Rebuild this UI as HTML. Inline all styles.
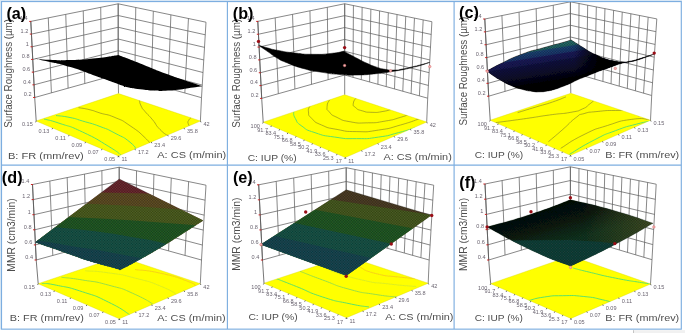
<!DOCTYPE html>
<html><head><meta charset="utf-8"><title>figure</title>
<style>
html,body{margin:0;padding:0;background:#fff;}
body{width:685px;height:333px;overflow:hidden;position:relative;}
svg{position:absolute;left:0;top:0;display:block;font-family:"Liberation Sans",sans-serif;}
</style></head><body>
<svg width="685" height="333" viewBox="0 0 685 333">
<defs><filter id="soft" x="0" y="0" width="100%" height="100%" filterUnits="userSpaceOnUse"><feGaussianBlur stdDeviation="0.35"/></filter></defs>
<g filter="url(#soft)">
<rect x="0" y="0" width="685" height="333" fill="#ffffff"/>
<defs><pattern id="mesh" width="1.6" height="1.6" patternUnits="userSpaceOnUse"><rect x="0" y="0" width="0.8" height="0.8" fill="#000" opacity="0.45"/><rect x="0.8" y="0.8" width="0.8" height="0.8" fill="#000" opacity="0.45"/></pattern></defs>
<line x1="34.7" y1="97.5" x2="30.8" y2="21.4" stroke="#606060" stroke-width="0.75" />
<line x1="51.4" y1="92.84" x2="48.28" y2="17.88" stroke="#606060" stroke-width="0.75" />
<line x1="68.1" y1="88.18" x2="65.76" y2="14.36" stroke="#606060" stroke-width="0.75" />
<line x1="84.8" y1="83.52" x2="83.24" y2="10.84" stroke="#606060" stroke-width="0.75" />
<line x1="101.5" y1="78.86" x2="100.72" y2="7.32" stroke="#606060" stroke-width="0.75" />
<line x1="118.2" y1="74.2" x2="118.2" y2="3.8" stroke="#606060" stroke-width="0.75" />
<line x1="34.7" y1="97.5" x2="118.2" y2="74.2" stroke="#606060" stroke-width="0.75" />
<line x1="34.05" y1="84.82" x2="118.2" y2="62.47" stroke="#606060" stroke-width="0.75" />
<line x1="33.4" y1="72.13" x2="118.2" y2="50.73" stroke="#606060" stroke-width="0.75" />
<line x1="32.75" y1="59.45" x2="118.2" y2="39" stroke="#606060" stroke-width="0.75" />
<line x1="32.1" y1="46.77" x2="118.2" y2="27.27" stroke="#606060" stroke-width="0.75" />
<line x1="31.45" y1="34.08" x2="118.2" y2="15.53" stroke="#606060" stroke-width="0.75" />
<line x1="30.8" y1="21.4" x2="118.2" y2="3.8" stroke="#606060" stroke-width="0.75" />
<line x1="118.2" y1="74.2" x2="118.2" y2="3.8" stroke="#606060" stroke-width="0.75" />
<line x1="134.86" y1="78.9" x2="135.76" y2="7.48" stroke="#606060" stroke-width="0.75" />
<line x1="151.52" y1="83.6" x2="153.32" y2="11.16" stroke="#606060" stroke-width="0.75" />
<line x1="168.18" y1="88.3" x2="170.88" y2="14.84" stroke="#606060" stroke-width="0.75" />
<line x1="184.84" y1="93" x2="188.44" y2="18.52" stroke="#606060" stroke-width="0.75" />
<line x1="201.5" y1="97.7" x2="206" y2="22.2" stroke="#606060" stroke-width="0.75" />
<line x1="118.2" y1="74.2" x2="201.5" y2="97.7" stroke="#606060" stroke-width="0.75" />
<line x1="118.2" y1="62.47" x2="202.25" y2="85.12" stroke="#606060" stroke-width="0.75" />
<line x1="118.2" y1="50.73" x2="203" y2="72.53" stroke="#606060" stroke-width="0.75" />
<line x1="118.2" y1="39" x2="203.75" y2="59.95" stroke="#606060" stroke-width="0.75" />
<line x1="118.2" y1="27.27" x2="204.5" y2="47.37" stroke="#606060" stroke-width="0.75" />
<line x1="118.2" y1="15.53" x2="205.25" y2="34.78" stroke="#606060" stroke-width="0.75" />
<line x1="118.2" y1="3.8" x2="206" y2="22.2" stroke="#606060" stroke-width="0.75" />
<line x1="118.2" y1="74.2" x2="118.5" y2="93.6" stroke="#606060" stroke-width="0.75" />
<line x1="201.5" y1="97.7" x2="200.4" y2="121" stroke="#606060" stroke-width="0.75" />
<clipPath id="fca"><polygon points="118.5,155.9 200.4,121 118.5,93.6 36.2,121"/></clipPath>
<polygon points="118.5,155.9 200.4,121 118.5,93.6 36.2,121" fill="#ffff00" stroke="#d8d800" stroke-width="0.4"/>
<g clip-path="url(#fca)" fill="none" stroke-width="0.55">
<path d="M44,119 C49.33,120.5 47.17,119.17 60,123.5 C72.83,127.83 66.23,124.33 82.5,132 C98.77,139.67 95.63,138.5 108.8,146.5 C121.97,154.5 117.6,152.83 122,156" stroke="#5fe266" stroke-width="1.0"/>
<path d="M56,115.5 C60.67,116.17 61.17,115.67 70,117.5 C78.83,119.33 72.5,118 82.5,121 C92.5,124 89.17,122.43 100,126.5 C110.83,130.57 105,127.97 115,133.2 C125,138.43 122.67,136.27 130,142.2 C137.33,148.13 134.67,148.07 137,151" stroke="#5fe266" stroke-width="1.0"/>
<path d="M78.5,107.6 C82.33,108.33 82.83,108 90,109.8 C97.17,111.6 91.67,110.43 100,113 C108.33,115.57 105,113.27 115,117.5 C125,121.73 120,118.97 130,125.7 C140,132.43 138.17,131.27 145,137.7 C151.83,144.13 148.67,142.57 150.5,145" stroke="#72722a" stroke-width="0.55"/>
<path d="M139.3,100.2 C139.93,102.2 139.3,102.43 141.2,106.2 C143.1,109.97 141.23,107 145,111.5 C148.77,116 147.5,113.7 152.5,119.7 C157.5,125.7 154.5,123.9 160,129.5 C165.5,135.1 166,134.17 169,136.5" stroke="#72722a" stroke-width="0.55"/>
<path d="M191.5,117 C190.53,118.17 189.7,118.33 188.6,120.5 C187.5,122.67 187.57,121.17 188.2,123.5 C188.83,125.83 189.73,126.17 190.5,127.5" stroke="#72722a" stroke-width="0.55"/>
</g>
<path d="M33.2,58.4 C38.8,58.87 37.6,59.23 50,59.8 C62.4,60.37 55.17,60.6 70.4,60.1 C85.63,59.6 79.7,60 95.7,58.3 C111.7,56.6 110.83,56.1 118.4,55 C125.67,57.8 124.53,57.27 140.2,63.4 C155.87,69.53 148.57,67.1 165.4,73.4 C182.23,79.7 178.4,78.03 190.7,82.3 C203,86.57 198.43,84.9 202.3,86.2 C198.43,86.73 198.8,86.6 190.7,87.8 C182.6,89 186.43,88.83 178,89.8 C169.57,90.77 173.8,90.43 165.4,90.7 C157,90.97 161.2,91.07 152.8,90.6 C144.4,90.13 148.6,90.4 140.2,89.3 C131.8,88.2 135,89.07 127.6,87.3 C120.2,85.53 128.63,87.77 118,84 C107.37,80.23 111.57,81.63 95.7,76 C79.83,70.37 85.63,71.8 70.4,67.1 C55.17,62.4 62.4,64.8 50,61.9 C37.6,59 38.8,59.57 33.2,58.4 Z" fill="#000"/>
<line x1="30.8" y1="21.4" x2="34.7" y2="97.5" stroke="#555" stroke-width="0.8" />
<line x1="34.7" y1="97.5" x2="36.2" y2="121" stroke="#555" stroke-width="0.8" />
<line x1="33.1" y1="97.5" x2="35.1" y2="97.5" stroke="#cc2020" stroke-width="1.0" />
<text transform="translate(31.5,96.3) scale(1.17,1)" font-size="4.75" fill="#6a6470" text-anchor="end">0.2</text>
<line x1="32.45" y1="84.82" x2="34.45" y2="84.82" stroke="#cc2020" stroke-width="1.0" />
<text transform="translate(30.85,83.62) scale(1.17,1)" font-size="4.75" fill="#6a6470" text-anchor="end">0.4</text>
<line x1="31.8" y1="72.13" x2="33.8" y2="72.13" stroke="#cc2020" stroke-width="1.0" />
<text transform="translate(30.2,70.93) scale(1.17,1)" font-size="4.75" fill="#6a6470" text-anchor="end">0.6</text>
<line x1="31.15" y1="59.45" x2="33.15" y2="59.45" stroke="#cc2020" stroke-width="1.0" />
<text transform="translate(29.55,58.25) scale(1.17,1)" font-size="4.75" fill="#6a6470" text-anchor="end">0.8</text>
<line x1="30.5" y1="46.77" x2="32.5" y2="46.77" stroke="#cc2020" stroke-width="1.0" />
<text transform="translate(28.9,45.57) scale(1.17,1)" font-size="4.75" fill="#6a6470" text-anchor="end">1</text>
<line x1="29.85" y1="34.08" x2="31.85" y2="34.08" stroke="#cc2020" stroke-width="1.0" />
<text transform="translate(28.25,32.88) scale(1.17,1)" font-size="4.75" fill="#6a6470" text-anchor="end">1.2</text>
<line x1="29.2" y1="21.4" x2="31.2" y2="21.4" stroke="#cc2020" stroke-width="1.0" />
<text transform="translate(27.6,20.2) scale(1.17,1)" font-size="4.75" fill="#6a6470" text-anchor="end">1.4</text>
<line x1="36.2" y1="121" x2="35.6" y2="122.3" stroke="#333" stroke-width="0.7" />
<text transform="translate(32.8,126.2) scale(1.17,1)" font-size="4.75" fill="#6a6470" text-anchor="end">0.15</text>
<line x1="52.66" y1="127.98" x2="52.06" y2="129.28" stroke="#333" stroke-width="0.7" />
<text transform="translate(49.26,133.18) scale(1.17,1)" font-size="4.75" fill="#6a6470" text-anchor="end">0.13</text>
<line x1="69.12" y1="134.96" x2="68.52" y2="136.26" stroke="#333" stroke-width="0.7" />
<text transform="translate(65.72,140.16) scale(1.17,1)" font-size="4.75" fill="#6a6470" text-anchor="end">0.11</text>
<line x1="85.58" y1="141.94" x2="84.98" y2="143.24" stroke="#333" stroke-width="0.7" />
<text transform="translate(82.18,147.14) scale(1.17,1)" font-size="4.75" fill="#6a6470" text-anchor="end">0.09</text>
<line x1="102.04" y1="148.92" x2="101.44" y2="150.22" stroke="#333" stroke-width="0.7" />
<text transform="translate(98.64,154.12) scale(1.17,1)" font-size="4.75" fill="#6a6470" text-anchor="end">0.07</text>
<line x1="118.5" y1="155.9" x2="117.9" y2="157.2" stroke="#333" stroke-width="0.7" />
<text transform="translate(115.1,161.1) scale(1.17,1)" font-size="4.75" fill="#6a6470" text-anchor="end">0.05</text>
<line x1="118.5" y1="155.9" x2="119.1" y2="157.2" stroke="#333" stroke-width="0.7" />
<text transform="translate(121.5,161.1) scale(1.17,1)" font-size="4.75" fill="#6a6470" text-anchor="start">11</text>
<line x1="134.88" y1="148.92" x2="135.48" y2="150.22" stroke="#333" stroke-width="0.7" />
<text transform="translate(137.88,154.12) scale(1.17,1)" font-size="4.75" fill="#6a6470" text-anchor="start">17.2</text>
<line x1="151.26" y1="141.94" x2="151.86" y2="143.24" stroke="#333" stroke-width="0.7" />
<text transform="translate(154.26,147.14) scale(1.17,1)" font-size="4.75" fill="#6a6470" text-anchor="start">23.4</text>
<line x1="167.64" y1="134.96" x2="168.24" y2="136.26" stroke="#333" stroke-width="0.7" />
<text transform="translate(170.64,140.16) scale(1.17,1)" font-size="4.75" fill="#6a6470" text-anchor="start">29.6</text>
<line x1="184.02" y1="127.98" x2="184.62" y2="129.28" stroke="#333" stroke-width="0.7" />
<text transform="translate(187.02,133.18) scale(1.17,1)" font-size="4.75" fill="#6a6470" text-anchor="start">35.8</text>
<line x1="200.4" y1="121" x2="201" y2="122.3" stroke="#333" stroke-width="0.7" />
<text transform="translate(203.4,126.2) scale(1.17,1)" font-size="4.75" fill="#6a6470" text-anchor="start">42</text>
<text transform="translate(12.4,73.4) rotate(-90)" font-size="11.2" fill="#4e4e4e" text-anchor="middle" textLength="108.8" lengthAdjust="spacingAndGlyphs">Surface Roughness (µm)</text>
<text x="7.9" y="158.6" font-size="9.8" fill="#4e4e4e" text-anchor="start" font-weight="normal" textLength="75.8" lengthAdjust="spacingAndGlyphs">B: FR (mm/rev)</text>
<text x="157.3" y="158.3" font-size="9.8" fill="#4e4e4e" text-anchor="start" font-weight="normal" textLength="68.9" lengthAdjust="spacingAndGlyphs">A: CS (m/min)</text>
<text x="16.3" y="18.9" font-size="16.2" fill="#000" text-anchor="middle" font-weight="bold" >(a)</text>
<line x1="261.7" y1="98.4" x2="257.8" y2="21.4" stroke="#606060" stroke-width="0.75" />
<line x1="278.3" y1="93.72" x2="275.18" y2="17.87" stroke="#606060" stroke-width="0.75" />
<line x1="294.9" y1="89.04" x2="292.56" y2="14.34" stroke="#606060" stroke-width="0.75" />
<line x1="311.5" y1="84.36" x2="309.94" y2="10.81" stroke="#606060" stroke-width="0.75" />
<line x1="328.1" y1="79.68" x2="327.32" y2="7.28" stroke="#606060" stroke-width="0.75" />
<line x1="344.7" y1="75" x2="344.7" y2="3.75" stroke="#606060" stroke-width="0.75" />
<line x1="261.7" y1="98.4" x2="344.7" y2="75" stroke="#606060" stroke-width="0.75" />
<line x1="261.05" y1="85.57" x2="344.7" y2="63.12" stroke="#606060" stroke-width="0.75" />
<line x1="260.4" y1="72.73" x2="344.7" y2="51.25" stroke="#606060" stroke-width="0.75" />
<line x1="259.75" y1="59.9" x2="344.7" y2="39.38" stroke="#606060" stroke-width="0.75" />
<line x1="259.1" y1="47.07" x2="344.7" y2="27.5" stroke="#606060" stroke-width="0.75" />
<line x1="258.45" y1="34.23" x2="344.7" y2="15.62" stroke="#606060" stroke-width="0.75" />
<line x1="257.8" y1="21.4" x2="344.7" y2="3.75" stroke="#606060" stroke-width="0.75" />
<line x1="344.7" y1="75" x2="344.7" y2="3.75" stroke="#606060" stroke-width="0.75" />
<line x1="353" y1="77.32" x2="353.42" y2="5.54" stroke="#606060" stroke-width="0.75" />
<line x1="361.3" y1="79.64" x2="362.14" y2="7.34" stroke="#606060" stroke-width="0.75" />
<line x1="369.6" y1="81.96" x2="370.86" y2="9.13" stroke="#606060" stroke-width="0.75" />
<line x1="377.9" y1="84.28" x2="379.58" y2="10.93" stroke="#606060" stroke-width="0.75" />
<line x1="386.2" y1="86.6" x2="388.3" y2="12.72" stroke="#606060" stroke-width="0.75" />
<line x1="394.5" y1="88.92" x2="397.02" y2="14.52" stroke="#606060" stroke-width="0.75" />
<line x1="402.8" y1="91.24" x2="405.74" y2="16.31" stroke="#606060" stroke-width="0.75" />
<line x1="411.1" y1="93.56" x2="414.46" y2="18.11" stroke="#606060" stroke-width="0.75" />
<line x1="419.4" y1="95.88" x2="423.18" y2="19.91" stroke="#606060" stroke-width="0.75" />
<line x1="427.7" y1="98.2" x2="431.9" y2="21.7" stroke="#606060" stroke-width="0.75" />
<line x1="344.7" y1="75" x2="427.7" y2="98.2" stroke="#606060" stroke-width="0.75" />
<line x1="344.7" y1="63.12" x2="428.4" y2="85.45" stroke="#606060" stroke-width="0.75" />
<line x1="344.7" y1="51.25" x2="429.1" y2="72.7" stroke="#606060" stroke-width="0.75" />
<line x1="344.7" y1="39.38" x2="429.8" y2="59.95" stroke="#606060" stroke-width="0.75" />
<line x1="344.7" y1="27.5" x2="430.5" y2="47.2" stroke="#606060" stroke-width="0.75" />
<line x1="344.7" y1="15.62" x2="431.2" y2="34.45" stroke="#606060" stroke-width="0.75" />
<line x1="344.7" y1="3.75" x2="431.9" y2="21.7" stroke="#606060" stroke-width="0.75" />
<line x1="344.7" y1="75" x2="344.7" y2="94.8" stroke="#606060" stroke-width="0.75" />
<line x1="427.7" y1="98.2" x2="426.7" y2="122" stroke="#606060" stroke-width="0.75" />
<clipPath id="fcb"><polygon points="345.3,157.5 426.7,122 344.7,94.8 263.2,122.2"/></clipPath>
<polygon points="345.3,157.5 426.7,122 344.7,94.8 263.2,122.2" fill="#ffff00" stroke="#d8d800" stroke-width="0.4"/>
<g clip-path="url(#fcb)" fill="none" stroke-width="0.55">
<path d="M293.58,111.46 C294.16,113.79 292.55,113.57 295.33,118.47 C298.1,123.36 295.33,121.38 301.9,126.13 C308.47,130.87 304.09,129.05 315.03,132.7 C325.98,136.35 320.87,135.11 334.74,137.08 C348.61,139.05 342.04,138.61 356.64,138.61 C371.23,138.61 364.67,139.05 378.53,137.08 C392.4,135.11 385.98,135.84 398.24,132.7 C410.5,129.56 409.63,129.34 415.32,127.66" stroke="#5fe266" stroke-width="1.0"/>
<path d="M310,105.98 C309.49,107.95 307.88,107.74 308.47,111.9 C309.05,116.06 307.37,114.09 311.75,118.47 C316.13,122.84 313.21,121.38 321.6,125.03 C330,128.68 325.25,127.22 336.93,129.41 C348.61,131.6 342.77,131.38 356.64,131.6 C370.5,131.82 363.94,132.26 378.53,130.07 C393.13,127.88 386.2,129.05 400.43,125.03 C414.66,121.02 414.3,120.36 421.23,118.03" stroke="#72722a" stroke-width="0.55"/>
<path d="M329.49,99.85 C328.68,102.04 327.15,102.41 327.08,106.42 C327,110.44 325.98,108.25 329.27,111.9 C332.55,115.55 330,114.09 336.93,117.37 C343.86,120.65 339.85,119.92 350.07,121.75 C360.29,123.57 355.91,123.06 367.58,122.84 C379.26,122.63 374.15,122.92 385.1,121.09 C396.05,119.27 391.96,119.85 400.43,117.37 C408.9,114.89 407.14,114.89 410.5,113.65" stroke="#72722a" stroke-width="0.55"/>
<path d="M356.64,97.23 C355.54,99.2 353.72,99.71 353.35,103.14 C352.99,106.57 352.62,104.96 355.54,107.52 C358.46,110.07 356.64,109.2 362.11,110.8 C367.58,112.41 365.03,112.12 371.96,112.33 C378.9,112.55 376.2,112.55 382.91,111.46 C389.63,110.36 389.04,109.85 392.11,109.05" stroke="#72722a" stroke-width="0.55"/>
</g>
<path d="M258.6,45.3 C261.73,46.2 261.87,46.37 268,48 C274.13,49.63 268,48.53 277,50.2 C286,51.87 283,51.63 295,53 C307,54.37 301,54.17 313,54.3 C325,54.43 320.7,54.43 331,53.4 C341.3,52.37 339.6,51.93 343.9,51.2 C348.6,53.73 350.3,54.77 358,58.8 C365.7,62.83 361,60.6 367,63.3 C373,66 370,64.9 376,66.9 C382,68.9 379,68.23 385,69.3 C391,70.37 388,70.23 394,70.1 C400,69.97 397,69.97 403,68.9 C409,67.83 406,68.3 412,66.9 C418,65.5 415.1,66.23 421,64.7 C426.9,63.17 426.8,63.1 429.7,62.3 C426.8,63.3 426.9,63.53 421,65.3 C415.1,67.07 418,66.13 412,67.6 C406,69.07 409,68.5 403,69.7 C397,70.9 400,70.23 394,71.2 C388,72.17 391,71.77 385,72.6 C379,73.43 385,72.9 376,73.7 C367,74.5 370,74.73 358,75 C346,75.27 352,75.4 340,74.5 C328,73.6 334,74.23 322,72.3 C310,70.37 316,72 304,68.7 C292,65.4 295,65.97 286,62.4 C277,58.83 283,61.53 277,58 C271,54.47 274.13,56.03 268,51.8 C261.87,47.57 261.73,47.47 258.6,45.3 Z" fill="#000" stroke="#000" stroke-width="0.5"/>
<line x1="257.8" y1="21.4" x2="261.7" y2="98.4" stroke="#555" stroke-width="0.8" />
<line x1="261.7" y1="98.4" x2="263.2" y2="122.2" stroke="#555" stroke-width="0.8" />
<line x1="260.1" y1="98.4" x2="262.1" y2="98.4" stroke="#cc2020" stroke-width="1.0" />
<text transform="translate(258.5,97.2) scale(1.17,1)" font-size="4.75" fill="#6a6470" text-anchor="end">0.2</text>
<line x1="259.45" y1="85.57" x2="261.45" y2="85.57" stroke="#cc2020" stroke-width="1.0" />
<text transform="translate(257.85,84.37) scale(1.17,1)" font-size="4.75" fill="#6a6470" text-anchor="end">0.4</text>
<line x1="258.8" y1="72.73" x2="260.8" y2="72.73" stroke="#cc2020" stroke-width="1.0" />
<text transform="translate(257.2,71.53) scale(1.17,1)" font-size="4.75" fill="#6a6470" text-anchor="end">0.6</text>
<line x1="258.15" y1="59.9" x2="260.15" y2="59.9" stroke="#cc2020" stroke-width="1.0" />
<text transform="translate(256.55,58.7) scale(1.17,1)" font-size="4.75" fill="#6a6470" text-anchor="end">0.8</text>
<line x1="257.5" y1="47.07" x2="259.5" y2="47.07" stroke="#cc2020" stroke-width="1.0" />
<text transform="translate(255.9,45.87) scale(1.17,1)" font-size="4.75" fill="#6a6470" text-anchor="end">1</text>
<line x1="256.85" y1="34.23" x2="258.85" y2="34.23" stroke="#cc2020" stroke-width="1.0" />
<text transform="translate(255.25,33.03) scale(1.17,1)" font-size="4.75" fill="#6a6470" text-anchor="end">1.2</text>
<line x1="256.2" y1="21.4" x2="258.2" y2="21.4" stroke="#cc2020" stroke-width="1.0" />
<text transform="translate(254.6,20.2) scale(1.17,1)" font-size="4.75" fill="#6a6470" text-anchor="end">1.4</text>
<line x1="263.2" y1="122.2" x2="262.6" y2="123.5" stroke="#333" stroke-width="0.7" />
<text transform="translate(259.8,128.1) scale(1.17,1)" font-size="4.75" fill="#6a6470" text-anchor="end">100</text>
<line x1="271.41" y1="125.73" x2="270.81" y2="127.03" stroke="#333" stroke-width="0.7" />
<text transform="translate(268.01,131.63) scale(1.17,1)" font-size="4.75" fill="#6a6470" text-anchor="end">91.7</text>
<line x1="279.62" y1="129.26" x2="279.02" y2="130.56" stroke="#333" stroke-width="0.7" />
<text transform="translate(276.22,135.16) scale(1.17,1)" font-size="4.75" fill="#6a6470" text-anchor="end">83.4</text>
<line x1="287.83" y1="132.79" x2="287.23" y2="134.09" stroke="#333" stroke-width="0.7" />
<text transform="translate(284.43,138.69) scale(1.17,1)" font-size="4.75" fill="#6a6470" text-anchor="end">75.1</text>
<line x1="296.04" y1="136.32" x2="295.44" y2="137.62" stroke="#333" stroke-width="0.7" />
<text transform="translate(292.64,142.22) scale(1.17,1)" font-size="4.75" fill="#6a6470" text-anchor="end">66.8</text>
<line x1="304.25" y1="139.85" x2="303.65" y2="141.15" stroke="#333" stroke-width="0.7" />
<text transform="translate(300.85,145.75) scale(1.17,1)" font-size="4.75" fill="#6a6470" text-anchor="end">58.5</text>
<line x1="312.46" y1="143.38" x2="311.86" y2="144.68" stroke="#333" stroke-width="0.7" />
<text transform="translate(309.06,149.28) scale(1.17,1)" font-size="4.75" fill="#6a6470" text-anchor="end">50.2</text>
<line x1="320.67" y1="146.91" x2="320.07" y2="148.21" stroke="#333" stroke-width="0.7" />
<text transform="translate(317.27,152.81) scale(1.17,1)" font-size="4.75" fill="#6a6470" text-anchor="end">41.9</text>
<line x1="328.88" y1="150.44" x2="328.28" y2="151.74" stroke="#333" stroke-width="0.7" />
<text transform="translate(325.48,156.34) scale(1.17,1)" font-size="4.75" fill="#6a6470" text-anchor="end">33.6</text>
<line x1="337.09" y1="153.97" x2="336.49" y2="155.27" stroke="#333" stroke-width="0.7" />
<text transform="translate(333.69,159.87) scale(1.17,1)" font-size="4.75" fill="#6a6470" text-anchor="end">25.3</text>
<line x1="345.3" y1="157.5" x2="344.7" y2="158.8" stroke="#333" stroke-width="0.7" />
<text transform="translate(341.9,163.4) scale(1.17,1)" font-size="4.75" fill="#6a6470" text-anchor="end">17</text>
<line x1="345.3" y1="157.5" x2="345.9" y2="158.8" stroke="#333" stroke-width="0.7" />
<text transform="translate(348.3,162.7) scale(1.17,1)" font-size="4.75" fill="#6a6470" text-anchor="start">11</text>
<line x1="361.58" y1="150.4" x2="362.18" y2="151.7" stroke="#333" stroke-width="0.7" />
<text transform="translate(364.58,155.6) scale(1.17,1)" font-size="4.75" fill="#6a6470" text-anchor="start">17.2</text>
<line x1="377.86" y1="143.3" x2="378.46" y2="144.6" stroke="#333" stroke-width="0.7" />
<text transform="translate(380.86,148.5) scale(1.17,1)" font-size="4.75" fill="#6a6470" text-anchor="start">23.4</text>
<line x1="394.14" y1="136.2" x2="394.74" y2="137.5" stroke="#333" stroke-width="0.7" />
<text transform="translate(397.14,141.4) scale(1.17,1)" font-size="4.75" fill="#6a6470" text-anchor="start">29.6</text>
<line x1="410.42" y1="129.1" x2="411.02" y2="130.4" stroke="#333" stroke-width="0.7" />
<text transform="translate(413.42,134.3) scale(1.17,1)" font-size="4.75" fill="#6a6470" text-anchor="start">35.8</text>
<line x1="426.7" y1="122" x2="427.3" y2="123.3" stroke="#333" stroke-width="0.7" />
<text transform="translate(429.7,127.2) scale(1.17,1)" font-size="4.75" fill="#6a6470" text-anchor="start">42</text>
<text transform="translate(239.6,73.3) rotate(-90)" font-size="11.2" fill="#4e4e4e" text-anchor="middle" textLength="108.8" lengthAdjust="spacingAndGlyphs">Surface Roughness (µm)</text>
<text x="247.7" y="161.2" font-size="9.8" fill="#4e4e4e" text-anchor="start" font-weight="normal" textLength="49" lengthAdjust="spacingAndGlyphs">C: IUP (%)</text>
<text x="383.4" y="160" font-size="9.8" fill="#4e4e4e" text-anchor="start" font-weight="normal" textLength="68.4" lengthAdjust="spacingAndGlyphs">A: CS (m/min)</text>
<circle cx="258.5" cy="41.4" r="1.7" fill="#9a1018"/>
<circle cx="344.6" cy="47.6" r="1.7" fill="#9a1018"/>
<circle cx="344.6" cy="65.5" r="1.25" fill="#f2b4b4" stroke="#d86a6a" stroke-width="0.5"/>
<circle cx="390.6" cy="70.8" r="1.25" fill="#f2b4b4" stroke="#d86a6a" stroke-width="0.5"/>
<circle cx="429.8" cy="66.6" r="1.25" fill="#f2b4b4" stroke="#d86a6a" stroke-width="0.5"/>
<text x="243.1" y="18.9" font-size="16.2" fill="#000" text-anchor="middle" font-weight="bold" >(b)</text>
<line x1="488.7" y1="96.2" x2="484.8" y2="19" stroke="#606060" stroke-width="0.75" />
<line x1="505.04" y1="91.38" x2="501.92" y2="15.56" stroke="#606060" stroke-width="0.75" />
<line x1="521.38" y1="86.56" x2="519.04" y2="12.12" stroke="#606060" stroke-width="0.75" />
<line x1="537.72" y1="81.74" x2="536.16" y2="8.68" stroke="#606060" stroke-width="0.75" />
<line x1="554.06" y1="76.92" x2="553.28" y2="5.24" stroke="#606060" stroke-width="0.75" />
<line x1="570.4" y1="72.1" x2="570.4" y2="1.8" stroke="#606060" stroke-width="0.75" />
<line x1="488.7" y1="96.2" x2="570.4" y2="72.1" stroke="#606060" stroke-width="0.75" />
<line x1="488.05" y1="83.33" x2="570.4" y2="60.38" stroke="#606060" stroke-width="0.75" />
<line x1="487.4" y1="70.47" x2="570.4" y2="48.67" stroke="#606060" stroke-width="0.75" />
<line x1="486.75" y1="57.6" x2="570.4" y2="36.95" stroke="#606060" stroke-width="0.75" />
<line x1="486.1" y1="44.73" x2="570.4" y2="25.23" stroke="#606060" stroke-width="0.75" />
<line x1="485.45" y1="31.87" x2="570.4" y2="13.52" stroke="#606060" stroke-width="0.75" />
<line x1="484.8" y1="19" x2="570.4" y2="1.8" stroke="#606060" stroke-width="0.75" />
<line x1="570.4" y1="72.1" x2="570.4" y2="1.8" stroke="#606060" stroke-width="0.75" />
<line x1="578.53" y1="74.44" x2="579.04" y2="3.51" stroke="#606060" stroke-width="0.75" />
<line x1="586.66" y1="76.78" x2="587.68" y2="5.22" stroke="#606060" stroke-width="0.75" />
<line x1="594.79" y1="79.12" x2="596.32" y2="6.93" stroke="#606060" stroke-width="0.75" />
<line x1="602.92" y1="81.46" x2="604.96" y2="8.64" stroke="#606060" stroke-width="0.75" />
<line x1="611.05" y1="83.8" x2="613.6" y2="10.35" stroke="#606060" stroke-width="0.75" />
<line x1="619.18" y1="86.14" x2="622.24" y2="12.06" stroke="#606060" stroke-width="0.75" />
<line x1="627.31" y1="88.48" x2="630.88" y2="13.77" stroke="#606060" stroke-width="0.75" />
<line x1="635.44" y1="90.82" x2="639.52" y2="15.48" stroke="#606060" stroke-width="0.75" />
<line x1="643.57" y1="93.16" x2="648.16" y2="17.19" stroke="#606060" stroke-width="0.75" />
<line x1="651.7" y1="95.5" x2="656.8" y2="18.9" stroke="#606060" stroke-width="0.75" />
<line x1="570.4" y1="72.1" x2="651.7" y2="95.5" stroke="#606060" stroke-width="0.75" />
<line x1="570.4" y1="60.38" x2="652.55" y2="82.73" stroke="#606060" stroke-width="0.75" />
<line x1="570.4" y1="48.67" x2="653.4" y2="69.97" stroke="#606060" stroke-width="0.75" />
<line x1="570.4" y1="36.95" x2="654.25" y2="57.2" stroke="#606060" stroke-width="0.75" />
<line x1="570.4" y1="25.23" x2="655.1" y2="44.43" stroke="#606060" stroke-width="0.75" />
<line x1="570.4" y1="13.52" x2="655.95" y2="31.67" stroke="#606060" stroke-width="0.75" />
<line x1="570.4" y1="1.8" x2="656.8" y2="18.9" stroke="#606060" stroke-width="0.75" />
<line x1="570.4" y1="72.1" x2="570.8" y2="93.3" stroke="#606060" stroke-width="0.75" />
<line x1="651.7" y1="95.5" x2="650.5" y2="120.2" stroke="#606060" stroke-width="0.75" />
<clipPath id="fcc"><polygon points="570.5,155.3 650.5,120.2 570.8,93.3 490.2,120.2"/></clipPath>
<polygon points="570.5,155.3 650.5,120.2 570.8,93.3 490.2,120.2" fill="#ffff00" stroke="#d8d800" stroke-width="0.4"/>
<g clip-path="url(#fcc)" fill="none" stroke-width="0.55">
<path d="M517.63,112.6 C523.94,110.67 524.99,110.32 536.55,106.82 C548.11,103.31 542.5,105.41 552.31,102.09 C562.12,98.76 561.42,98.58 565.98,96.83" stroke="#72722a" stroke-width="0.55"/>
<path d="M495.82,122.58 C505.02,121.35 505.46,121.44 523.41,118.9 C541.37,116.36 533.92,117.15 549.69,114.96 C565.45,112.77 559.76,114.35 570.71,112.33 C581.65,110.32 576.4,111.54 582.53,108.92 C588.66,106.29 585.33,107.25 589.1,104.45 C592.86,101.65 592.25,101.82 593.83,100.51" stroke="#72722a" stroke-width="0.55"/>
<path d="M548.37,141.76 C553.19,137.64 553.63,137.47 562.82,129.41 C572.02,121.35 568.95,122.84 575.96,117.59 C582.97,112.33 576.84,115.66 583.84,113.65 C590.85,111.63 586.47,112.6 596.98,111.54 C607.49,110.49 603.99,110.49 615.37,110.49 C626.76,110.49 623.25,109.62 631.14,111.54 C639.02,113.47 636.39,114.7 639.02,116.27" stroke="#72722a" stroke-width="0.55"/>
<path d="M560.72,148.33 C568.43,143.77 568.25,142.29 583.84,134.67 C599.43,127.05 591.72,130.55 607.49,125.47 C623.25,120.39 617.12,121.44 631.14,119.43 C645.15,117.41 643.4,119.43 649.53,119.43" stroke="#72722a" stroke-width="0.55"/>
<path d="M569.39,154.37 C577.71,149.56 579.03,147.8 594.35,139.92 C609.68,132.04 601.36,135.98 615.37,130.73 C629.38,125.47 624.13,127.4 636.39,124.16 C648.65,120.92 646.9,122.05 652.16,121" stroke="#5fe266" stroke-width="1.0"/>
</g>
<defs><linearGradient id="gc1" gradientUnits="userSpaceOnUse" x1="571.2" y1="40" x2="577.52" y2="79.48">
<stop offset="0" stop-color="#2c7c77"/>
<stop offset="0.125" stop-color="#266f6f"/>
<stop offset="0.15" stop-color="#204d82"/>
<stop offset="0.28" stop-color="#1d3c7a"/>
<stop offset="0.305" stop-color="#1d1d66"/>
<stop offset="0.43" stop-color="#1a1b5c"/>
<stop offset="0.46" stop-color="#131549"/>
<stop offset="0.7" stop-color="#0c0c32"/>
<stop offset="0.9" stop-color="#02020a"/>
<stop offset="1" stop-color="#000"/>
</linearGradient><linearGradient id="gc2" gradientUnits="userSpaceOnUse" x1="574" y1="0" x2="600" y2="0"><stop offset="0" stop-color="#000" stop-opacity="0"/><stop offset="1" stop-color="#000" stop-opacity="1"/></linearGradient></defs>
<clipPath id="scc"><path d="M487.2,71 C491.8,68.53 489.4,69.2 501,63.6 C512.6,58 508,59.43 522,54.2 C536,48.97 529,51.9 543,47.9 C557,43.9 554.6,44.83 564,42.2 C573.4,39.57 568.8,40.73 571.2,40 C573,41.17 572.4,40.83 576.6,43.5 C580.8,46.17 579,45 583.8,48 C588.6,51 586.6,50.1 591,52.5 C595.4,54.9 592.5,53.17 597,55.2 C601.5,57.23 598.5,56.57 604.5,58.6 C610.5,60.63 609,60.2 615,61.3 C621,62.4 617.5,61.93 622.5,61.9 C627.5,61.87 624,62.37 630,61.2 C636,60.03 632.43,60.8 640.5,58.4 C648.57,56 649.63,55.47 654.2,54 C649.47,55.73 648.07,56.6 640,59.2 C631.93,61.8 635.83,60.5 630,61.8 C624.17,63.1 627.5,61.87 622.5,63.1 C617.5,64.33 620,63.8 615,65.5 C610,67.2 612.5,66.43 607.5,68.2 C602.5,69.97 605,68.93 600,70.8 C595,72.67 597.5,71.8 592.5,73.8 C587.5,75.8 590,74.8 585,76.8 C580,78.8 582.5,77.57 577.5,79.8 C572.5,82.03 575,81.27 570,83.5 C565,85.73 567.5,84.6 562.5,86.5 C557.5,88.4 560,87.7 555,89.2 C550,90.7 552.5,90.13 547.5,91 C542.5,91.87 545,91.67 540,91.8 C535,91.93 538.5,92.23 532.5,91.4 C526.5,90.57 529,91.2 522,89.3 C515,87.4 518.5,88.67 511.5,85.7 C504.5,82.73 507.17,83.8 501,80.4 C494.83,77 497.6,78.63 493,75.5 C488.4,72.37 489.13,72.5 487.2,71 Z"/></clipPath>
<path d="M487.2,71 C491.8,68.53 489.4,69.2 501,63.6 C512.6,58 508,59.43 522,54.2 C536,48.97 529,51.9 543,47.9 C557,43.9 554.6,44.83 564,42.2 C573.4,39.57 568.8,40.73 571.2,40 C573,41.17 572.4,40.83 576.6,43.5 C580.8,46.17 579,45 583.8,48 C588.6,51 586.6,50.1 591,52.5 C595.4,54.9 592.5,53.17 597,55.2 C601.5,57.23 598.5,56.57 604.5,58.6 C610.5,60.63 609,60.2 615,61.3 C621,62.4 617.5,61.93 622.5,61.9 C627.5,61.87 624,62.37 630,61.2 C636,60.03 632.43,60.8 640.5,58.4 C648.57,56 649.63,55.47 654.2,54 C649.47,55.73 648.07,56.6 640,59.2 C631.93,61.8 635.83,60.5 630,61.8 C624.17,63.1 627.5,61.87 622.5,63.1 C617.5,64.33 620,63.8 615,65.5 C610,67.2 612.5,66.43 607.5,68.2 C602.5,69.97 605,68.93 600,70.8 C595,72.67 597.5,71.8 592.5,73.8 C587.5,75.8 590,74.8 585,76.8 C580,78.8 582.5,77.57 577.5,79.8 C572.5,82.03 575,81.27 570,83.5 C565,85.73 567.5,84.6 562.5,86.5 C557.5,88.4 560,87.7 555,89.2 C550,90.7 552.5,90.13 547.5,91 C542.5,91.87 545,91.67 540,91.8 C535,91.93 538.5,92.23 532.5,91.4 C526.5,90.57 529,91.2 522,89.3 C515,87.4 518.5,88.67 511.5,85.7 C504.5,82.73 507.17,83.8 501,80.4 C494.83,77 497.6,78.63 493,75.5 C488.4,72.37 489.13,72.5 487.2,71 Z" fill="#000" stroke="#000" stroke-width="0.5"/>
<g clip-path="url(#scc)"><path d="M487.2,71 C491.8,68.53 489.4,69.2 501,63.6 C512.6,58 508,59.43 522,54.2 C536,48.97 529,51.9 543,47.9 C557,43.9 554.6,44.83 564,42.2 C573.4,39.57 568.8,40.73 571.2,40 C573,41.17 572.4,40.83 576.6,43.5 C580.8,46.17 579,45 583.8,48 C588.6,51 586.6,50.1 591,52.5 C595.4,54.9 592.5,53.17 597,55.2 C601.5,57.23 598.5,56.57 604.5,58.6 C610.5,60.63 609,60.2 615,61.3 C621,62.4 617.5,61.93 622.5,61.9 C627.5,61.87 624,62.37 630,61.2 C636,60.03 632.43,60.8 640.5,58.4 C648.57,56 649.63,55.47 654.2,54 C649.47,55.73 648.07,56.6 640,59.2 C631.93,61.8 635.83,60.5 630,61.8 C624.17,63.1 627.5,61.87 622.5,63.1 C617.5,64.33 620,63.8 615,65.5 C610,67.2 612.5,66.43 607.5,68.2 C602.5,69.97 605,68.93 600,70.8 C595,72.67 597.5,71.8 592.5,73.8 C587.5,75.8 590,74.8 585,76.8 C580,78.8 582.5,77.57 577.5,79.8 C572.5,82.03 575,81.27 570,83.5 C565,85.73 567.5,84.6 562.5,86.5 C557.5,88.4 560,87.7 555,89.2 C550,90.7 552.5,90.13 547.5,91 C542.5,91.87 545,91.67 540,91.8 C535,91.93 538.5,92.23 532.5,91.4 C526.5,90.57 529,91.2 522,89.3 C515,87.4 518.5,88.67 511.5,85.7 C504.5,82.73 507.17,83.8 501,80.4 C494.83,77 497.6,78.63 493,75.5 C488.4,72.37 489.13,72.5 487.2,71 Z" fill="url(#gc1)"/>
<rect x="560" y="30" width="100" height="70" fill="url(#gc2)"/>
<path d="M487.2,71 C491.8,68.53 489.4,69.2 501,63.6 C512.6,58 508,59.43 522,54.2 C536,48.97 529,51.9 543,47.9 C557,43.9 554.6,44.83 564,42.2 C573.4,39.57 568.8,40.73 571.2,40 C573,41.17 572.4,40.83 576.6,43.5 C580.8,46.17 579,45 583.8,48 C588.6,51 586.6,50.1 591,52.5 C595.4,54.9 592.5,53.17 597,55.2 C601.5,57.23 598.5,56.57 604.5,58.6 C610.5,60.63 609,60.2 615,61.3 C621,62.4 617.5,61.93 622.5,61.9 C627.5,61.87 624,62.37 630,61.2 C636,60.03 632.43,60.8 640.5,58.4 C648.57,56 649.63,55.47 654.2,54 C649.47,55.73 648.07,56.6 640,59.2 C631.93,61.8 635.83,60.5 630,61.8 C624.17,63.1 627.5,61.87 622.5,63.1 C617.5,64.33 620,63.8 615,65.5 C610,67.2 612.5,66.43 607.5,68.2 C602.5,69.97 605,68.93 600,70.8 C595,72.67 597.5,71.8 592.5,73.8 C587.5,75.8 590,74.8 585,76.8 C580,78.8 582.5,77.57 577.5,79.8 C572.5,82.03 575,81.27 570,83.5 C565,85.73 567.5,84.6 562.5,86.5 C557.5,88.4 560,87.7 555,89.2 C550,90.7 552.5,90.13 547.5,91 C542.5,91.87 545,91.67 540,91.8 C535,91.93 538.5,92.23 532.5,91.4 C526.5,90.57 529,91.2 522,89.3 C515,87.4 518.5,88.67 511.5,85.7 C504.5,82.73 507.17,83.8 501,80.4 C494.83,77 497.6,78.63 493,75.5 C488.4,72.37 489.13,72.5 487.2,71 Z" fill="url(#mesh)"/></g>
<line x1="484.8" y1="19" x2="488.7" y2="96.2" stroke="#555" stroke-width="0.8" />
<line x1="488.7" y1="96.2" x2="490.2" y2="120.2" stroke="#555" stroke-width="0.8" />
<line x1="487.1" y1="96.2" x2="489.1" y2="96.2" stroke="#cc2020" stroke-width="1.0" />
<text transform="translate(485.5,95) scale(1.17,1)" font-size="4.75" fill="#6a6470" text-anchor="end">0.2</text>
<line x1="486.45" y1="83.33" x2="488.45" y2="83.33" stroke="#cc2020" stroke-width="1.0" />
<text transform="translate(484.85,82.13) scale(1.17,1)" font-size="4.75" fill="#6a6470" text-anchor="end">0.4</text>
<line x1="485.8" y1="70.47" x2="487.8" y2="70.47" stroke="#cc2020" stroke-width="1.0" />
<text transform="translate(484.2,69.27) scale(1.17,1)" font-size="4.75" fill="#6a6470" text-anchor="end">0.6</text>
<line x1="485.15" y1="57.6" x2="487.15" y2="57.6" stroke="#cc2020" stroke-width="1.0" />
<text transform="translate(483.55,56.4) scale(1.17,1)" font-size="4.75" fill="#6a6470" text-anchor="end">0.8</text>
<line x1="484.5" y1="44.73" x2="486.5" y2="44.73" stroke="#cc2020" stroke-width="1.0" />
<text transform="translate(482.9,43.53) scale(1.17,1)" font-size="4.75" fill="#6a6470" text-anchor="end">1</text>
<line x1="483.85" y1="31.87" x2="485.85" y2="31.87" stroke="#cc2020" stroke-width="1.0" />
<text transform="translate(482.25,30.67) scale(1.17,1)" font-size="4.75" fill="#6a6470" text-anchor="end">1.2</text>
<line x1="483.2" y1="19" x2="485.2" y2="19" stroke="#cc2020" stroke-width="1.0" />
<text transform="translate(481.6,17.8) scale(1.17,1)" font-size="4.75" fill="#6a6470" text-anchor="end">1.4</text>
<line x1="490.2" y1="120.2" x2="489.6" y2="121.5" stroke="#333" stroke-width="0.7" />
<text transform="translate(486.8,126.1) scale(1.17,1)" font-size="4.75" fill="#6a6470" text-anchor="end">100</text>
<line x1="498.23" y1="123.71" x2="497.63" y2="125.01" stroke="#333" stroke-width="0.7" />
<text transform="translate(494.83,129.61) scale(1.17,1)" font-size="4.75" fill="#6a6470" text-anchor="end">91.7</text>
<line x1="506.26" y1="127.22" x2="505.66" y2="128.52" stroke="#333" stroke-width="0.7" />
<text transform="translate(502.86,133.12) scale(1.17,1)" font-size="4.75" fill="#6a6470" text-anchor="end">83.4</text>
<line x1="514.29" y1="130.73" x2="513.69" y2="132.03" stroke="#333" stroke-width="0.7" />
<text transform="translate(510.89,136.63) scale(1.17,1)" font-size="4.75" fill="#6a6470" text-anchor="end">75.1</text>
<line x1="522.32" y1="134.24" x2="521.72" y2="135.54" stroke="#333" stroke-width="0.7" />
<text transform="translate(518.92,140.14) scale(1.17,1)" font-size="4.75" fill="#6a6470" text-anchor="end">66.8</text>
<line x1="530.35" y1="137.75" x2="529.75" y2="139.05" stroke="#333" stroke-width="0.7" />
<text transform="translate(526.95,143.65) scale(1.17,1)" font-size="4.75" fill="#6a6470" text-anchor="end">58.5</text>
<line x1="538.38" y1="141.26" x2="537.78" y2="142.56" stroke="#333" stroke-width="0.7" />
<text transform="translate(534.98,147.16) scale(1.17,1)" font-size="4.75" fill="#6a6470" text-anchor="end">50.2</text>
<line x1="546.41" y1="144.77" x2="545.81" y2="146.07" stroke="#333" stroke-width="0.7" />
<text transform="translate(543.01,150.67) scale(1.17,1)" font-size="4.75" fill="#6a6470" text-anchor="end">41.9</text>
<line x1="554.44" y1="148.28" x2="553.84" y2="149.58" stroke="#333" stroke-width="0.7" />
<text transform="translate(551.04,154.18) scale(1.17,1)" font-size="4.75" fill="#6a6470" text-anchor="end">33.6</text>
<line x1="562.47" y1="151.79" x2="561.87" y2="153.09" stroke="#333" stroke-width="0.7" />
<text transform="translate(559.07,157.69) scale(1.17,1)" font-size="4.75" fill="#6a6470" text-anchor="end">25.3</text>
<line x1="570.5" y1="155.3" x2="569.9" y2="156.6" stroke="#333" stroke-width="0.7" />
<text transform="translate(567.1,161.2) scale(1.17,1)" font-size="4.75" fill="#6a6470" text-anchor="end">17</text>
<line x1="570.5" y1="155.3" x2="571.1" y2="156.6" stroke="#333" stroke-width="0.7" />
<text transform="translate(573.5,160.5) scale(1.17,1)" font-size="4.75" fill="#6a6470" text-anchor="start">0.05</text>
<line x1="586.5" y1="148.28" x2="587.1" y2="149.58" stroke="#333" stroke-width="0.7" />
<text transform="translate(589.5,153.48) scale(1.17,1)" font-size="4.75" fill="#6a6470" text-anchor="start">0.07</text>
<line x1="602.5" y1="141.26" x2="603.1" y2="142.56" stroke="#333" stroke-width="0.7" />
<text transform="translate(605.5,146.46) scale(1.17,1)" font-size="4.75" fill="#6a6470" text-anchor="start">0.09</text>
<line x1="618.5" y1="134.24" x2="619.1" y2="135.54" stroke="#333" stroke-width="0.7" />
<text transform="translate(621.5,139.44) scale(1.17,1)" font-size="4.75" fill="#6a6470" text-anchor="start">0.11</text>
<line x1="634.5" y1="127.22" x2="635.1" y2="128.52" stroke="#333" stroke-width="0.7" />
<text transform="translate(637.5,132.42) scale(1.17,1)" font-size="4.75" fill="#6a6470" text-anchor="start">0.13</text>
<line x1="650.5" y1="120.2" x2="651.1" y2="121.5" stroke="#333" stroke-width="0.7" />
<text transform="translate(653.5,125.4) scale(1.17,1)" font-size="4.75" fill="#6a6470" text-anchor="start">0.15</text>
<text transform="translate(466.6,71.2) rotate(-90)" font-size="11.2" fill="#4e4e4e" text-anchor="middle" textLength="108.8" lengthAdjust="spacingAndGlyphs">Surface Roughness (µm)</text>
<text x="474.7" y="158.3" font-size="9.8" fill="#4e4e4e" text-anchor="start" font-weight="normal" textLength="48.5" lengthAdjust="spacingAndGlyphs">C: IUP (%)</text>
<text x="605.2" y="158.2" font-size="9.8" fill="#4e4e4e" text-anchor="start" font-weight="normal" textLength="74" lengthAdjust="spacingAndGlyphs">B: FR (mm/rev)</text>
<circle cx="654.2" cy="53.1" r="1.7" fill="#9a1018"/>
<circle cx="487.2" cy="71.2" r="1.25" fill="#f2b4b4" stroke="#d86a6a" stroke-width="0.5"/>
<circle cx="615.3" cy="68.4" r="1.25" fill="#f2b4b4" stroke="#d86a6a" stroke-width="0.5"/>
<text x="469" y="18.1" font-size="16.2" fill="#000" text-anchor="middle" font-weight="bold" >(c)</text>
<line x1="36.2" y1="260" x2="32.5" y2="184.5" stroke="#606060" stroke-width="0.75" />
<line x1="52.8" y1="255.44" x2="49.84" y2="181.04" stroke="#606060" stroke-width="0.75" />
<line x1="69.4" y1="250.88" x2="67.18" y2="177.58" stroke="#606060" stroke-width="0.75" />
<line x1="86" y1="246.32" x2="84.52" y2="174.12" stroke="#606060" stroke-width="0.75" />
<line x1="102.6" y1="241.76" x2="101.86" y2="170.66" stroke="#606060" stroke-width="0.75" />
<line x1="119.2" y1="237.2" x2="119.2" y2="167.2" stroke="#606060" stroke-width="0.75" />
<line x1="36.2" y1="260" x2="119.2" y2="237.2" stroke="#606060" stroke-width="0.75" />
<line x1="35.46" y1="244.9" x2="119.2" y2="223.2" stroke="#606060" stroke-width="0.75" />
<line x1="34.72" y1="229.8" x2="119.2" y2="209.2" stroke="#606060" stroke-width="0.75" />
<line x1="33.98" y1="214.7" x2="119.2" y2="195.2" stroke="#606060" stroke-width="0.75" />
<line x1="33.24" y1="199.6" x2="119.2" y2="181.2" stroke="#606060" stroke-width="0.75" />
<line x1="32.5" y1="184.5" x2="119.2" y2="167.2" stroke="#606060" stroke-width="0.75" />
<line x1="119.2" y1="237.2" x2="119.2" y2="167.2" stroke="#606060" stroke-width="0.75" />
<line x1="135.66" y1="241.76" x2="136.56" y2="170.8" stroke="#606060" stroke-width="0.75" />
<line x1="152.12" y1="246.32" x2="153.92" y2="174.4" stroke="#606060" stroke-width="0.75" />
<line x1="168.58" y1="250.88" x2="171.28" y2="178" stroke="#606060" stroke-width="0.75" />
<line x1="185.04" y1="255.44" x2="188.64" y2="181.6" stroke="#606060" stroke-width="0.75" />
<line x1="201.5" y1="260" x2="206" y2="185.2" stroke="#606060" stroke-width="0.75" />
<line x1="119.2" y1="237.2" x2="201.5" y2="260" stroke="#606060" stroke-width="0.75" />
<line x1="119.2" y1="223.2" x2="202.4" y2="245.04" stroke="#606060" stroke-width="0.75" />
<line x1="119.2" y1="209.2" x2="203.3" y2="230.08" stroke="#606060" stroke-width="0.75" />
<line x1="119.2" y1="195.2" x2="204.2" y2="215.12" stroke="#606060" stroke-width="0.75" />
<line x1="119.2" y1="181.2" x2="205.1" y2="200.16" stroke="#606060" stroke-width="0.75" />
<line x1="119.2" y1="167.2" x2="206" y2="185.2" stroke="#606060" stroke-width="0.75" />
<line x1="119.2" y1="237.2" x2="119.3" y2="256.5" stroke="#606060" stroke-width="0.75" />
<line x1="201.5" y1="260" x2="200.3" y2="283.7" stroke="#606060" stroke-width="0.75" />
<clipPath id="fcd"><polygon points="119.3,318.75 200.3,283.7 119.3,256.5 38.2,283.7"/></clipPath>
<polygon points="119.3,318.75 200.3,283.7 119.3,256.5 38.2,283.7" fill="#ffff00" stroke="#d8d800" stroke-width="0.4"/>
<g clip-path="url(#fcd)" fill="none" stroke-width="0.55">
<path d="M41.8,283.4 C46.63,284 42.73,282.4 56.3,285.2 C69.87,288 65,286.1 82.5,291.8 C100,297.5 92.63,294.4 108.8,302.3 C124.97,310.2 123.6,311.1 131,315.5" stroke="#5fe266" stroke-width="1.0"/>
<path d="M61.5,277.3 C68.5,278.2 66.73,277.37 82.5,280 C98.27,282.63 91.27,280.4 108.8,285.2 C126.33,290 118.7,286.97 135.1,294.4 C151.5,301.83 150.37,303.13 158,307.5" stroke="#9adf45" stroke-width="1.0"/>
<path d="M85.2,270.8 C93.07,271.5 92.17,270.47 108.8,272.9 C125.43,275.33 117.57,273.57 135.1,278.1 C152.63,282.63 146.77,280.53 161.4,286.5 C176.03,292.47 173.13,292.83 179,296" stroke="#d4ea28" stroke-width="0.8"/>
<path d="M135,269.5 C143.8,270.8 143.87,269.47 161.4,273.4 C178.93,277.33 176.07,276.93 187.6,281.3 C199.13,285.67 193.2,284.77 196,286.5" stroke="#f4c81e" stroke-width="0.8"/>
</g>
<clipPath id="scd"><path d="M35.4,242.3 L119.3,179 L203,220.6 C195.33,225.5 193.8,226.57 180,235.3 C166.2,244.03 174.93,238.8 161.6,246.8 C148.27,254.8 153.9,251.57 140,259.3 C126.1,267.03 126.6,266.43 119.9,270 C117.93,269.27 122.97,270.47 114,267.8 C105.03,265.13 107,266.27 93,262 C79,257.73 86,259.8 72,255 C58,250.2 63.2,251.83 51,247.6 C38.8,243.37 40.6,244.07 35.4,242.3 Z"/></clipPath>
<path d="M35.4,242.3 L119.3,179 L203,220.6 C195.33,225.5 193.8,226.57 180,235.3 C166.2,244.03 174.93,238.8 161.6,246.8 C148.27,254.8 153.9,251.57 140,259.3 C126.1,267.03 126.6,266.43 119.9,270 C117.93,269.27 122.97,270.47 114,267.8 C105.03,265.13 107,266.27 93,262 C79,257.73 86,259.8 72,255 C58,250.2 63.2,251.83 51,247.6 C38.8,243.37 40.6,244.07 35.4,242.3 Z" fill="#7a2e36" stroke="#222" stroke-width="0.3"/>
<g clip-path="url(#scd)">
<polygon points="0,190.18 102,192.5 146,193.5 240,195.64 240,400 0,400" fill="#6c5829"/>
<polygon points="0,199.33 87.8,203.7 130,205.8 173,209 240,213.99 240,400 0,400" fill="#586c25"/>
<polygon points="0,213.88 67.5,217 100,218.5 130,220.2 190,224.7 240,228.45 240,400 0,400" fill="#27662b"/>
<polygon points="0,222.33 52.5,227 75,229 95,231.3 115,234 130,236.8 150,240 165,243.5 240,261 240,400 0,400" fill="#1b5f52"/>
<polygon points="0,236 36,240.5 48,242 78,247.3 95,249.5 108,252 120,254.3 144.5,258.8 240,276.34 240,400 0,400" fill="#18515d"/>

<path d="M35.4,242.3 L119.3,179 L203,220.6 C195.33,225.5 193.8,226.57 180,235.3 C166.2,244.03 174.93,238.8 161.6,246.8 C148.27,254.8 153.9,251.57 140,259.3 C126.1,267.03 126.6,266.43 119.9,270 C117.93,269.27 122.97,270.47 114,267.8 C105.03,265.13 107,266.27 93,262 C79,257.73 86,259.8 72,255 C58,250.2 63.2,251.83 51,247.6 C38.8,243.37 40.6,244.07 35.4,242.3 Z" fill="url(#mesh)"/>
</g>
<line x1="32.5" y1="184.5" x2="36.2" y2="260" stroke="#555" stroke-width="0.8" />
<line x1="36.2" y1="260" x2="38.2" y2="283.7" stroke="#555" stroke-width="0.8" />
<line x1="34.6" y1="260" x2="36.6" y2="260" stroke="#cc2020" stroke-width="1.0" />
<text transform="translate(33,258.8) scale(1.17,1)" font-size="4.75" fill="#6a6470" text-anchor="end">0.4</text>
<line x1="33.86" y1="244.9" x2="35.86" y2="244.9" stroke="#cc2020" stroke-width="1.0" />
<text transform="translate(32.26,243.7) scale(1.17,1)" font-size="4.75" fill="#6a6470" text-anchor="end">0.6</text>
<line x1="33.12" y1="229.8" x2="35.12" y2="229.8" stroke="#cc2020" stroke-width="1.0" />
<text transform="translate(31.52,228.6) scale(1.17,1)" font-size="4.75" fill="#6a6470" text-anchor="end">0.8</text>
<line x1="32.38" y1="214.7" x2="34.38" y2="214.7" stroke="#cc2020" stroke-width="1.0" />
<text transform="translate(30.78,213.5) scale(1.17,1)" font-size="4.75" fill="#6a6470" text-anchor="end">1</text>
<line x1="31.64" y1="199.6" x2="33.64" y2="199.6" stroke="#cc2020" stroke-width="1.0" />
<text transform="translate(30.04,198.4) scale(1.17,1)" font-size="4.75" fill="#6a6470" text-anchor="end">1.2</text>
<line x1="30.9" y1="184.5" x2="32.9" y2="184.5" stroke="#cc2020" stroke-width="1.0" />
<text transform="translate(29.3,183.3) scale(1.17,1)" font-size="4.75" fill="#6a6470" text-anchor="end">1.4</text>
<line x1="38.2" y1="283.7" x2="37.6" y2="285" stroke="#333" stroke-width="0.7" />
<text transform="translate(34.8,288.9) scale(1.17,1)" font-size="4.75" fill="#6a6470" text-anchor="end">0.15</text>
<line x1="54.42" y1="290.71" x2="53.82" y2="292.01" stroke="#333" stroke-width="0.7" />
<text transform="translate(51.02,295.91) scale(1.17,1)" font-size="4.75" fill="#6a6470" text-anchor="end">0.13</text>
<line x1="70.64" y1="297.72" x2="70.04" y2="299.02" stroke="#333" stroke-width="0.7" />
<text transform="translate(67.24,302.92) scale(1.17,1)" font-size="4.75" fill="#6a6470" text-anchor="end">0.11</text>
<line x1="86.86" y1="304.73" x2="86.26" y2="306.03" stroke="#333" stroke-width="0.7" />
<text transform="translate(83.46,309.93) scale(1.17,1)" font-size="4.75" fill="#6a6470" text-anchor="end">0.09</text>
<line x1="103.08" y1="311.74" x2="102.48" y2="313.04" stroke="#333" stroke-width="0.7" />
<text transform="translate(99.68,316.94) scale(1.17,1)" font-size="4.75" fill="#6a6470" text-anchor="end">0.07</text>
<line x1="119.3" y1="318.75" x2="118.7" y2="320.05" stroke="#333" stroke-width="0.7" />
<text transform="translate(115.9,323.95) scale(1.17,1)" font-size="4.75" fill="#6a6470" text-anchor="end">0.05</text>
<line x1="119.3" y1="318.75" x2="119.9" y2="320.05" stroke="#333" stroke-width="0.7" />
<text transform="translate(122.3,323.95) scale(1.17,1)" font-size="4.75" fill="#6a6470" text-anchor="start">11</text>
<line x1="135.5" y1="311.74" x2="136.1" y2="313.04" stroke="#333" stroke-width="0.7" />
<text transform="translate(138.5,316.94) scale(1.17,1)" font-size="4.75" fill="#6a6470" text-anchor="start">17.2</text>
<line x1="151.7" y1="304.73" x2="152.3" y2="306.03" stroke="#333" stroke-width="0.7" />
<text transform="translate(154.7,309.93) scale(1.17,1)" font-size="4.75" fill="#6a6470" text-anchor="start">23.4</text>
<line x1="167.9" y1="297.72" x2="168.5" y2="299.02" stroke="#333" stroke-width="0.7" />
<text transform="translate(170.9,302.92) scale(1.17,1)" font-size="4.75" fill="#6a6470" text-anchor="start">29.6</text>
<line x1="184.1" y1="290.71" x2="184.7" y2="292.01" stroke="#333" stroke-width="0.7" />
<text transform="translate(187.1,295.91) scale(1.17,1)" font-size="4.75" fill="#6a6470" text-anchor="start">35.8</text>
<line x1="200.3" y1="283.7" x2="200.9" y2="285" stroke="#333" stroke-width="0.7" />
<text transform="translate(203.3,288.9) scale(1.17,1)" font-size="4.75" fill="#6a6470" text-anchor="start">42</text>
<text transform="translate(14.6,235) rotate(-90)" font-size="11.2" fill="#4e4e4e" text-anchor="middle" textLength="73.3" lengthAdjust="spacingAndGlyphs">MMR (cm3/min)</text>
<text x="9.8" y="321" font-size="9.8" fill="#4e4e4e" text-anchor="start" font-weight="normal" textLength="74.1" lengthAdjust="spacingAndGlyphs">B: FR (mm/rev)</text>
<text x="157.3" y="321" font-size="9.8" fill="#4e4e4e" text-anchor="start" font-weight="normal" textLength="68.3" lengthAdjust="spacingAndGlyphs">A: CS (m/min)</text>
<text x="12.2" y="182.5" font-size="16.2" fill="#000" text-anchor="middle" font-weight="bold" >(d)</text>
<line x1="262.5" y1="260" x2="258.7" y2="184.8" stroke="#606060" stroke-width="0.75" />
<line x1="279.24" y1="255.34" x2="276.2" y2="181.38" stroke="#606060" stroke-width="0.75" />
<line x1="295.98" y1="250.68" x2="293.7" y2="177.96" stroke="#606060" stroke-width="0.75" />
<line x1="312.72" y1="246.02" x2="311.2" y2="174.54" stroke="#606060" stroke-width="0.75" />
<line x1="329.46" y1="241.36" x2="328.7" y2="171.12" stroke="#606060" stroke-width="0.75" />
<line x1="346.2" y1="236.7" x2="346.2" y2="167.7" stroke="#606060" stroke-width="0.75" />
<line x1="262.5" y1="260" x2="346.2" y2="236.7" stroke="#606060" stroke-width="0.75" />
<line x1="261.74" y1="244.96" x2="346.2" y2="222.9" stroke="#606060" stroke-width="0.75" />
<line x1="260.98" y1="229.92" x2="346.2" y2="209.1" stroke="#606060" stroke-width="0.75" />
<line x1="260.22" y1="214.88" x2="346.2" y2="195.3" stroke="#606060" stroke-width="0.75" />
<line x1="259.46" y1="199.84" x2="346.2" y2="181.5" stroke="#606060" stroke-width="0.75" />
<line x1="258.7" y1="184.8" x2="346.2" y2="167.7" stroke="#606060" stroke-width="0.75" />
<line x1="346.2" y1="236.7" x2="346.2" y2="167.7" stroke="#606060" stroke-width="0.75" />
<line x1="354.5" y1="239.03" x2="354.95" y2="169.45" stroke="#606060" stroke-width="0.75" />
<line x1="362.8" y1="241.36" x2="363.7" y2="171.2" stroke="#606060" stroke-width="0.75" />
<line x1="371.1" y1="243.69" x2="372.45" y2="172.95" stroke="#606060" stroke-width="0.75" />
<line x1="379.4" y1="246.02" x2="381.2" y2="174.7" stroke="#606060" stroke-width="0.75" />
<line x1="387.7" y1="248.35" x2="389.95" y2="176.45" stroke="#606060" stroke-width="0.75" />
<line x1="396" y1="250.68" x2="398.7" y2="178.2" stroke="#606060" stroke-width="0.75" />
<line x1="404.3" y1="253.01" x2="407.45" y2="179.95" stroke="#606060" stroke-width="0.75" />
<line x1="412.6" y1="255.34" x2="416.2" y2="181.7" stroke="#606060" stroke-width="0.75" />
<line x1="420.9" y1="257.67" x2="424.95" y2="183.45" stroke="#606060" stroke-width="0.75" />
<line x1="429.2" y1="260" x2="433.7" y2="185.2" stroke="#606060" stroke-width="0.75" />
<line x1="346.2" y1="236.7" x2="429.2" y2="260" stroke="#606060" stroke-width="0.75" />
<line x1="346.2" y1="222.9" x2="430.1" y2="245.04" stroke="#606060" stroke-width="0.75" />
<line x1="346.2" y1="209.1" x2="431" y2="230.08" stroke="#606060" stroke-width="0.75" />
<line x1="346.2" y1="195.3" x2="431.9" y2="215.12" stroke="#606060" stroke-width="0.75" />
<line x1="346.2" y1="181.5" x2="432.8" y2="200.16" stroke="#606060" stroke-width="0.75" />
<line x1="346.2" y1="167.7" x2="433.7" y2="185.2" stroke="#606060" stroke-width="0.75" />
<line x1="346.2" y1="236.7" x2="346.3" y2="256" stroke="#606060" stroke-width="0.75" />
<line x1="429.2" y1="260" x2="428.2" y2="283.2" stroke="#606060" stroke-width="0.75" />
<clipPath id="fce"><polygon points="346.5,317.7 428.2,283.2 346.3,256 264,283.2"/></clipPath>
<polygon points="346.5,317.7 428.2,283.2 346.3,256 264,283.2" fill="#ffff00" stroke="#d8d800" stroke-width="0.4"/>
<g clip-path="url(#fce)" fill="none" stroke-width="0.55">
<path d="M276,278.5 C282.8,281.17 280.83,280.33 296.4,286.5 C311.97,292.67 305.17,291.3 322.7,297 C340.23,302.7 333.57,300.27 349,303.6 C364.43,306.93 362.33,305.87 369,307" stroke="#5fe266" stroke-width="1.0"/>
<path d="M300,271.3 C307.57,274.2 306.37,274.03 322.7,280 C339.03,285.97 331.5,284.4 349,289.2 C366.5,294 359.2,291.8 375.2,294.4 C391.2,297 389.73,296.13 397,297" stroke="#9adf45" stroke-width="1.0"/>
<path d="M330.6,270.8 C341.1,273.87 342.83,275.63 362.1,280 C381.37,284.37 370.43,281.73 388.4,283.9 C406.37,286.07 406.8,285.63 416,286.5" stroke="#d4ea28" stroke-width="0.8"/>
<path d="M359.5,266.8 C364.73,269 361.2,269.9 375.2,273.4 C389.2,276.9 384.23,275.43 401.5,277.3 C418.77,279.17 418.5,278.43 427,279" stroke="#f4c81e" stroke-width="0.8"/>
</g>
<clipPath id="sce"><path d="M261,244.5 L346.2,189.8 L431.3,215.2 L346.3,275.5 L261,244.5 Z"/></clipPath>
<path d="M261,244.5 L346.2,189.8 L431.3,215.2 L346.3,275.5 L261,244.5 Z" fill="#57462a" stroke="#222" stroke-width="0.3"/>
<g clip-path="url(#sce)">
<polygon points="224,183.05 331,199.5 416.2,212.6 464,219.95 464,400 224,400" fill="#526824"/>
<polygon points="224,192.55 315.1,209.8 412.3,228.2 464,237.99 464,400 224,400" fill="#27662b"/>
<polygon points="224,207.98 295.5,223.3 391.2,243.8 464,259.39 464,400 224,400" fill="#1b5f52"/>
<polygon points="224,224.49 274.5,236 373.2,258.5 464,279.2 464,400 224,400" fill="#18515d"/>

<path d="M261,244.5 L346.2,189.8 L431.3,215.2 L346.3,275.5 L261,244.5 Z" fill="url(#mesh)"/>
</g>
<line x1="258.7" y1="184.8" x2="262.5" y2="260" stroke="#555" stroke-width="0.8" />
<line x1="262.5" y1="260" x2="264" y2="283.2" stroke="#555" stroke-width="0.8" />
<line x1="260.9" y1="260" x2="262.9" y2="260" stroke="#cc2020" stroke-width="1.0" />
<text transform="translate(259.3,258.8) scale(1.17,1)" font-size="4.75" fill="#6a6470" text-anchor="end">0.4</text>
<line x1="260.14" y1="244.96" x2="262.14" y2="244.96" stroke="#cc2020" stroke-width="1.0" />
<text transform="translate(258.54,243.76) scale(1.17,1)" font-size="4.75" fill="#6a6470" text-anchor="end">0.6</text>
<line x1="259.38" y1="229.92" x2="261.38" y2="229.92" stroke="#cc2020" stroke-width="1.0" />
<text transform="translate(257.78,228.72) scale(1.17,1)" font-size="4.75" fill="#6a6470" text-anchor="end">0.8</text>
<line x1="258.62" y1="214.88" x2="260.62" y2="214.88" stroke="#cc2020" stroke-width="1.0" />
<text transform="translate(257.02,213.68) scale(1.17,1)" font-size="4.75" fill="#6a6470" text-anchor="end">1</text>
<line x1="257.86" y1="199.84" x2="259.86" y2="199.84" stroke="#cc2020" stroke-width="1.0" />
<text transform="translate(256.26,198.64) scale(1.17,1)" font-size="4.75" fill="#6a6470" text-anchor="end">1.2</text>
<line x1="257.1" y1="184.8" x2="259.1" y2="184.8" stroke="#cc2020" stroke-width="1.0" />
<text transform="translate(255.5,183.6) scale(1.17,1)" font-size="4.75" fill="#6a6470" text-anchor="end">1.4</text>
<line x1="264" y1="283.2" x2="263.4" y2="284.5" stroke="#333" stroke-width="0.7" />
<text transform="translate(260.6,289.1) scale(1.17,1)" font-size="4.75" fill="#6a6470" text-anchor="end">100</text>
<line x1="272.25" y1="286.65" x2="271.65" y2="287.95" stroke="#333" stroke-width="0.7" />
<text transform="translate(268.85,292.55) scale(1.17,1)" font-size="4.75" fill="#6a6470" text-anchor="end">91.7</text>
<line x1="280.5" y1="290.1" x2="279.9" y2="291.4" stroke="#333" stroke-width="0.7" />
<text transform="translate(277.1,296) scale(1.17,1)" font-size="4.75" fill="#6a6470" text-anchor="end">83.4</text>
<line x1="288.75" y1="293.55" x2="288.15" y2="294.85" stroke="#333" stroke-width="0.7" />
<text transform="translate(285.35,299.45) scale(1.17,1)" font-size="4.75" fill="#6a6470" text-anchor="end">75.1</text>
<line x1="297" y1="297" x2="296.4" y2="298.3" stroke="#333" stroke-width="0.7" />
<text transform="translate(293.6,302.9) scale(1.17,1)" font-size="4.75" fill="#6a6470" text-anchor="end">66.8</text>
<line x1="305.25" y1="300.45" x2="304.65" y2="301.75" stroke="#333" stroke-width="0.7" />
<text transform="translate(301.85,306.35) scale(1.17,1)" font-size="4.75" fill="#6a6470" text-anchor="end">58.5</text>
<line x1="313.5" y1="303.9" x2="312.9" y2="305.2" stroke="#333" stroke-width="0.7" />
<text transform="translate(310.1,309.8) scale(1.17,1)" font-size="4.75" fill="#6a6470" text-anchor="end">50.2</text>
<line x1="321.75" y1="307.35" x2="321.15" y2="308.65" stroke="#333" stroke-width="0.7" />
<text transform="translate(318.35,313.25) scale(1.17,1)" font-size="4.75" fill="#6a6470" text-anchor="end">41.9</text>
<line x1="330" y1="310.8" x2="329.4" y2="312.1" stroke="#333" stroke-width="0.7" />
<text transform="translate(326.6,316.7) scale(1.17,1)" font-size="4.75" fill="#6a6470" text-anchor="end">33.6</text>
<line x1="338.25" y1="314.25" x2="337.65" y2="315.55" stroke="#333" stroke-width="0.7" />
<text transform="translate(334.85,320.15) scale(1.17,1)" font-size="4.75" fill="#6a6470" text-anchor="end">25.3</text>
<line x1="346.5" y1="317.7" x2="345.9" y2="319" stroke="#333" stroke-width="0.7" />
<text transform="translate(343.1,323.6) scale(1.17,1)" font-size="4.75" fill="#6a6470" text-anchor="end">17</text>
<line x1="346.5" y1="317.7" x2="347.1" y2="319" stroke="#333" stroke-width="0.7" />
<text transform="translate(349.5,322.9) scale(1.17,1)" font-size="4.75" fill="#6a6470" text-anchor="start">11</text>
<line x1="362.84" y1="310.8" x2="363.44" y2="312.1" stroke="#333" stroke-width="0.7" />
<text transform="translate(365.84,316) scale(1.17,1)" font-size="4.75" fill="#6a6470" text-anchor="start">17.2</text>
<line x1="379.18" y1="303.9" x2="379.78" y2="305.2" stroke="#333" stroke-width="0.7" />
<text transform="translate(382.18,309.1) scale(1.17,1)" font-size="4.75" fill="#6a6470" text-anchor="start">23.4</text>
<line x1="395.52" y1="297" x2="396.12" y2="298.3" stroke="#333" stroke-width="0.7" />
<text transform="translate(398.52,302.2) scale(1.17,1)" font-size="4.75" fill="#6a6470" text-anchor="start">29.6</text>
<line x1="411.86" y1="290.1" x2="412.46" y2="291.4" stroke="#333" stroke-width="0.7" />
<text transform="translate(414.86,295.3) scale(1.17,1)" font-size="4.75" fill="#6a6470" text-anchor="start">35.8</text>
<line x1="428.2" y1="283.2" x2="428.8" y2="284.5" stroke="#333" stroke-width="0.7" />
<text transform="translate(431.2,288.4) scale(1.17,1)" font-size="4.75" fill="#6a6470" text-anchor="start">42</text>
<text transform="translate(240.4,234.2) rotate(-90)" font-size="11.2" fill="#4e4e4e" text-anchor="middle" textLength="73.3" lengthAdjust="spacingAndGlyphs">MMR (cm3/min)</text>
<text x="248.4" y="320.1" font-size="9.8" fill="#4e4e4e" text-anchor="start" font-weight="normal" textLength="49.2" lengthAdjust="spacingAndGlyphs">C: IUP (%)</text>
<text x="385.2" y="319.8" font-size="9.8" fill="#4e4e4e" text-anchor="start" font-weight="normal" textLength="68.3" lengthAdjust="spacingAndGlyphs">A: CS (m/min)</text>
<circle cx="305.7" cy="212" r="1.7" fill="#9a1018"/>
<circle cx="431.7" cy="215.5" r="1.7" fill="#9a1018"/>
<circle cx="391.3" cy="244" r="1.7" fill="#9a1018"/>
<circle cx="346.2" cy="276.2" r="1.7" fill="#9a1018"/>
<circle cx="261" cy="244.6" r="1.25" fill="#f2b4b4" stroke="#d86a6a" stroke-width="0.5"/>
<text x="242.8" y="182.5" font-size="16.2" fill="#000" text-anchor="middle" font-weight="bold" >(e)</text>
<line x1="488.7" y1="260" x2="485" y2="184" stroke="#606060" stroke-width="0.75" />
<line x1="505.04" y1="255.08" x2="502.08" y2="180.56" stroke="#606060" stroke-width="0.75" />
<line x1="521.38" y1="250.16" x2="519.16" y2="177.12" stroke="#606060" stroke-width="0.75" />
<line x1="537.72" y1="245.24" x2="536.24" y2="173.68" stroke="#606060" stroke-width="0.75" />
<line x1="554.06" y1="240.32" x2="553.32" y2="170.24" stroke="#606060" stroke-width="0.75" />
<line x1="570.4" y1="235.4" x2="570.4" y2="166.8" stroke="#606060" stroke-width="0.75" />
<line x1="488.7" y1="260" x2="570.4" y2="235.4" stroke="#606060" stroke-width="0.75" />
<line x1="487.96" y1="244.8" x2="570.4" y2="221.68" stroke="#606060" stroke-width="0.75" />
<line x1="487.22" y1="229.6" x2="570.4" y2="207.96" stroke="#606060" stroke-width="0.75" />
<line x1="486.48" y1="214.4" x2="570.4" y2="194.24" stroke="#606060" stroke-width="0.75" />
<line x1="485.74" y1="199.2" x2="570.4" y2="180.52" stroke="#606060" stroke-width="0.75" />
<line x1="485" y1="184" x2="570.4" y2="166.8" stroke="#606060" stroke-width="0.75" />
<line x1="570.4" y1="235.4" x2="570.4" y2="166.8" stroke="#606060" stroke-width="0.75" />
<line x1="578.56" y1="237.83" x2="578.98" y2="168.54" stroke="#606060" stroke-width="0.75" />
<line x1="586.72" y1="240.26" x2="587.56" y2="170.28" stroke="#606060" stroke-width="0.75" />
<line x1="594.88" y1="242.69" x2="596.14" y2="172.02" stroke="#606060" stroke-width="0.75" />
<line x1="603.04" y1="245.12" x2="604.72" y2="173.76" stroke="#606060" stroke-width="0.75" />
<line x1="611.2" y1="247.55" x2="613.3" y2="175.5" stroke="#606060" stroke-width="0.75" />
<line x1="619.36" y1="249.98" x2="621.88" y2="177.24" stroke="#606060" stroke-width="0.75" />
<line x1="627.52" y1="252.41" x2="630.46" y2="178.98" stroke="#606060" stroke-width="0.75" />
<line x1="635.68" y1="254.84" x2="639.04" y2="180.72" stroke="#606060" stroke-width="0.75" />
<line x1="643.84" y1="257.27" x2="647.62" y2="182.46" stroke="#606060" stroke-width="0.75" />
<line x1="652" y1="259.7" x2="656.2" y2="184.2" stroke="#606060" stroke-width="0.75" />
<line x1="570.4" y1="235.4" x2="652" y2="259.7" stroke="#606060" stroke-width="0.75" />
<line x1="570.4" y1="221.68" x2="652.84" y2="244.6" stroke="#606060" stroke-width="0.75" />
<line x1="570.4" y1="207.96" x2="653.68" y2="229.5" stroke="#606060" stroke-width="0.75" />
<line x1="570.4" y1="194.24" x2="654.52" y2="214.4" stroke="#606060" stroke-width="0.75" />
<line x1="570.4" y1="180.52" x2="655.36" y2="199.3" stroke="#606060" stroke-width="0.75" />
<line x1="570.4" y1="166.8" x2="656.2" y2="184.2" stroke="#606060" stroke-width="0.75" />
<line x1="570.4" y1="235.4" x2="570.7" y2="256" stroke="#606060" stroke-width="0.75" />
<line x1="652" y1="259.7" x2="650.5" y2="284" stroke="#606060" stroke-width="0.75" />
<clipPath id="fcf"><polygon points="570.9,318.4 650.5,284 570.7,256 490.7,283.7"/></clipPath>
<polygon points="570.9,318.4 650.5,284 570.7,256 490.7,283.7" fill="#ffff00" stroke="#d8d800" stroke-width="0.4"/>
<g clip-path="url(#fcf)" fill="none" stroke-width="0.55">
<path d="M529,300.5 C534.13,299.33 533.13,298.6 544.4,297 C555.67,295.4 549.67,295.87 562.8,295.7 C575.93,295.53 570.67,295.17 583.8,296.5 C596.93,297.83 591.8,297.37 602.2,299.7 C612.6,302.03 610.73,302.23 615,303.5" stroke="#5fe266" stroke-width="1.0"/>
<path d="M573.3,268.1 C578.57,269.43 575.07,268.77 589.1,272.1 C603.13,275.43 597.87,274.6 615.4,278.1 C632.93,281.6 628.83,280.57 641.7,282.6 C654.57,284.63 649.9,283.67 654,284.2" stroke="#5fe266" stroke-width="1.0"/>
</g>
<defs><linearGradient id="gf1" gradientUnits="userSpaceOnUse" x1="560" y1="198" x2="572" y2="240"><stop offset="0" stop-color="#030603" stop-opacity="1"/><stop offset="0.5" stop-color="#06100a" stop-opacity="0.8"/><stop offset="1" stop-color="#0a1a0c" stop-opacity="0.05"/></linearGradient>
<linearGradient id="gf2" gradientUnits="userSpaceOnUse" x1="585" y1="0" x2="655" y2="0"><stop offset="0" stop-color="#6e6a2c" stop-opacity="0"/><stop offset="1" stop-color="#6e6a2c" stop-opacity="0.6"/></linearGradient></defs>
<clipPath id="scf"><path d="M487.1,227 C501.73,222.73 503.23,223.27 531,214.2 C558.77,205.13 557.27,204.6 570.4,199.8 C584.27,203.2 584.43,202.2 612,210 C639.57,217.8 639.4,218.8 653.1,223.2 C639.4,230.8 639.5,231.7 612,246 C584.5,260.3 584.4,259.4 570.6,266.1 C557.4,260.73 558.83,263.03 531,250 C503.17,236.97 501.73,234.67 487.1,227 Z"/></clipPath>
<path d="M487.1,227 C501.73,222.73 503.23,223.27 531,214.2 C558.77,205.13 557.27,204.6 570.4,199.8 C584.27,203.2 584.43,202.2 612,210 C639.57,217.8 639.4,218.8 653.1,223.2 C639.4,230.8 639.5,231.7 612,246 C584.5,260.3 584.4,259.4 570.6,266.1 C557.4,260.73 558.83,263.03 531,250 C503.17,236.97 501.73,234.67 487.1,227 Z" fill="#153e25" stroke="#222" stroke-width="0.3"/>
<g clip-path="url(#scf)">
<path d="M487.1,227 C501.73,222.73 503.23,223.27 531,214.2 C558.77,205.13 557.27,204.6 570.4,199.8 C584.27,203.2 584.43,202.2 612,210 C639.57,217.8 639.4,218.8 653.1,223.2 C639.4,230.8 639.5,231.7 612,246 C584.5,260.3 584.4,259.4 570.6,266.1 C557.4,260.73 558.83,263.03 531,250 C503.17,236.97 501.73,234.67 487.1,227 Z" fill="url(#gf1)"/><path d="M487.1,227 C501.73,222.73 503.23,223.27 531,214.2 C558.77,205.13 557.27,204.6 570.4,199.8 C584.27,203.2 584.43,202.2 612,210 C639.57,217.8 639.4,218.8 653.1,223.2 C639.4,230.8 639.5,231.7 612,246 C584.5,260.3 584.4,259.4 570.6,266.1 C557.4,260.73 558.83,263.03 531,250 C503.17,236.97 501.73,234.67 487.1,227 Z" fill="url(#gf2)"/><polygon points="470,240.6 527,240.3 570,240 600,241.8 614.5,243.6 700,254 700,300 470,300" fill="#154a41"/>
<path d="M487.1,227 C501.73,222.73 503.23,223.27 531,214.2 C558.77,205.13 557.27,204.6 570.4,199.8 C584.27,203.2 584.43,202.2 612,210 C639.57,217.8 639.4,218.8 653.1,223.2 C639.4,230.8 639.5,231.7 612,246 C584.5,260.3 584.4,259.4 570.6,266.1 C557.4,260.73 558.83,263.03 531,250 C503.17,236.97 501.73,234.67 487.1,227 Z" fill="url(#mesh)"/>
</g>
<line x1="485" y1="184" x2="488.7" y2="260" stroke="#555" stroke-width="0.8" />
<line x1="488.7" y1="260" x2="490.7" y2="283.7" stroke="#555" stroke-width="0.8" />
<line x1="487.1" y1="260" x2="489.1" y2="260" stroke="#cc2020" stroke-width="1.0" />
<text transform="translate(485.5,258.8) scale(1.17,1)" font-size="4.75" fill="#6a6470" text-anchor="end">0.4</text>
<line x1="486.36" y1="244.8" x2="488.36" y2="244.8" stroke="#cc2020" stroke-width="1.0" />
<text transform="translate(484.76,243.6) scale(1.17,1)" font-size="4.75" fill="#6a6470" text-anchor="end">0.6</text>
<line x1="485.62" y1="229.6" x2="487.62" y2="229.6" stroke="#cc2020" stroke-width="1.0" />
<text transform="translate(484.02,228.4) scale(1.17,1)" font-size="4.75" fill="#6a6470" text-anchor="end">0.8</text>
<line x1="484.88" y1="214.4" x2="486.88" y2="214.4" stroke="#cc2020" stroke-width="1.0" />
<text transform="translate(483.28,213.2) scale(1.17,1)" font-size="4.75" fill="#6a6470" text-anchor="end">1</text>
<line x1="484.14" y1="199.2" x2="486.14" y2="199.2" stroke="#cc2020" stroke-width="1.0" />
<text transform="translate(482.54,198) scale(1.17,1)" font-size="4.75" fill="#6a6470" text-anchor="end">1.2</text>
<line x1="483.4" y1="184" x2="485.4" y2="184" stroke="#cc2020" stroke-width="1.0" />
<text transform="translate(481.8,182.8) scale(1.17,1)" font-size="4.75" fill="#6a6470" text-anchor="end">1.4</text>
<line x1="490.7" y1="283.7" x2="490.1" y2="285" stroke="#333" stroke-width="0.7" />
<text transform="translate(487.3,289.6) scale(1.17,1)" font-size="4.75" fill="#6a6470" text-anchor="end">100</text>
<line x1="498.72" y1="287.17" x2="498.12" y2="288.47" stroke="#333" stroke-width="0.7" />
<text transform="translate(495.32,293.07) scale(1.17,1)" font-size="4.75" fill="#6a6470" text-anchor="end">91.7</text>
<line x1="506.74" y1="290.64" x2="506.14" y2="291.94" stroke="#333" stroke-width="0.7" />
<text transform="translate(503.34,296.54) scale(1.17,1)" font-size="4.75" fill="#6a6470" text-anchor="end">83.4</text>
<line x1="514.76" y1="294.11" x2="514.16" y2="295.41" stroke="#333" stroke-width="0.7" />
<text transform="translate(511.36,300.01) scale(1.17,1)" font-size="4.75" fill="#6a6470" text-anchor="end">75.1</text>
<line x1="522.78" y1="297.58" x2="522.18" y2="298.88" stroke="#333" stroke-width="0.7" />
<text transform="translate(519.38,303.48) scale(1.17,1)" font-size="4.75" fill="#6a6470" text-anchor="end">66.8</text>
<line x1="530.8" y1="301.05" x2="530.2" y2="302.35" stroke="#333" stroke-width="0.7" />
<text transform="translate(527.4,306.95) scale(1.17,1)" font-size="4.75" fill="#6a6470" text-anchor="end">58.5</text>
<line x1="538.82" y1="304.52" x2="538.22" y2="305.82" stroke="#333" stroke-width="0.7" />
<text transform="translate(535.42,310.42) scale(1.17,1)" font-size="4.75" fill="#6a6470" text-anchor="end">50.2</text>
<line x1="546.84" y1="307.99" x2="546.24" y2="309.29" stroke="#333" stroke-width="0.7" />
<text transform="translate(543.44,313.89) scale(1.17,1)" font-size="4.75" fill="#6a6470" text-anchor="end">41.9</text>
<line x1="554.86" y1="311.46" x2="554.26" y2="312.76" stroke="#333" stroke-width="0.7" />
<text transform="translate(551.46,317.36) scale(1.17,1)" font-size="4.75" fill="#6a6470" text-anchor="end">33.6</text>
<line x1="562.88" y1="314.93" x2="562.28" y2="316.23" stroke="#333" stroke-width="0.7" />
<text transform="translate(559.48,320.83) scale(1.17,1)" font-size="4.75" fill="#6a6470" text-anchor="end">25.3</text>
<line x1="570.9" y1="318.4" x2="570.3" y2="319.7" stroke="#333" stroke-width="0.7" />
<text transform="translate(567.5,324.3) scale(1.17,1)" font-size="4.75" fill="#6a6470" text-anchor="end">17</text>
<line x1="570.9" y1="318.4" x2="571.5" y2="319.7" stroke="#333" stroke-width="0.7" />
<text transform="translate(573.9,323.6) scale(1.17,1)" font-size="4.75" fill="#6a6470" text-anchor="start">0.05</text>
<line x1="586.82" y1="311.52" x2="587.42" y2="312.82" stroke="#333" stroke-width="0.7" />
<text transform="translate(589.82,316.72) scale(1.17,1)" font-size="4.75" fill="#6a6470" text-anchor="start">0.07</text>
<line x1="602.74" y1="304.64" x2="603.34" y2="305.94" stroke="#333" stroke-width="0.7" />
<text transform="translate(605.74,309.84) scale(1.17,1)" font-size="4.75" fill="#6a6470" text-anchor="start">0.09</text>
<line x1="618.66" y1="297.76" x2="619.26" y2="299.06" stroke="#333" stroke-width="0.7" />
<text transform="translate(621.66,302.96) scale(1.17,1)" font-size="4.75" fill="#6a6470" text-anchor="start">0.11</text>
<line x1="634.58" y1="290.88" x2="635.18" y2="292.18" stroke="#333" stroke-width="0.7" />
<text transform="translate(637.58,296.08) scale(1.17,1)" font-size="4.75" fill="#6a6470" text-anchor="start">0.13</text>
<line x1="650.5" y1="284" x2="651.1" y2="285.3" stroke="#333" stroke-width="0.7" />
<text transform="translate(653.5,289.2) scale(1.17,1)" font-size="4.75" fill="#6a6470" text-anchor="start">0.15</text>
<text transform="translate(467,234.4) rotate(-90)" font-size="11.2" fill="#4e4e4e" text-anchor="middle" textLength="73.3" lengthAdjust="spacingAndGlyphs">MMR (cm3/min)</text>
<text x="474.7" y="321" font-size="9.8" fill="#4e4e4e" text-anchor="start" font-weight="normal" textLength="48.2" lengthAdjust="spacingAndGlyphs">C: IUP (%)</text>
<text x="605.2" y="320.6" font-size="9.8" fill="#4e4e4e" text-anchor="start" font-weight="normal" textLength="74" lengthAdjust="spacingAndGlyphs">B: FR (mm/rev)</text>
<circle cx="531" cy="211.7" r="1.7" fill="#9a1018"/>
<circle cx="570.4" cy="197.8" r="1.7" fill="#9a1018"/>
<circle cx="614.8" cy="243.6" r="1.7" fill="#9a1018"/>
<circle cx="487.1" cy="227" r="1.7" fill="#9a1018"/>
<circle cx="653.9" cy="227" r="1.25" fill="#f2b4b4" stroke="#d86a6a" stroke-width="0.5"/>
<circle cx="570.6" cy="267.4" r="1.25" fill="#f2b4b4" stroke="#d86a6a" stroke-width="0.5"/>
<text x="467.4" y="187.7" font-size="16.2" fill="#000" text-anchor="middle" font-weight="bold" >(f)</text>
<rect x="0" y="0" width="682" height="1.1" fill="#dce9f5"/>
<rect x="0" y="0" width="0.95" height="329.6" fill="#dce9f5"/>
<rect x="634" y="330.2" width="51" height="3" fill="#f1f1f1"/>
<rect x="633" y="330.2" width="1" height="3" fill="#c4c4c4"/>
<rect x="1.5" y="1.55" width="679.8" height="327.6" fill="none" stroke="#7daee0" stroke-width="1.15"/>
<line x1="227.4" y1="1.5" x2="227.4" y2="329.1" stroke="#7daee0" stroke-width="1.15" />
<line x1="454.1" y1="1.5" x2="454.1" y2="329.1" stroke="#7daee0" stroke-width="1.15" />
<line x1="1.5" y1="165.1" x2="681.3" y2="165.1" stroke="#7daee0" stroke-width="1.15" />
</g>
</svg>
</body></html>
